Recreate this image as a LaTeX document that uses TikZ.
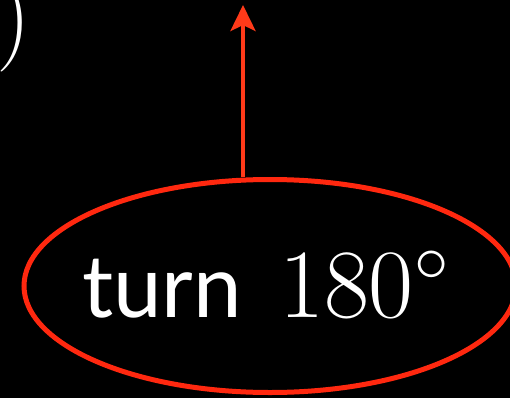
\RequirePackage{fix-cm}
\documentclass[tikz,border=0pt]{standalone}
\usepackage{fontspec}
\newfontfamily\labelsans{Lato}
\usetikzlibrary{arrows.meta,shapes.geometric}
\definecolor{hot}{RGB}{255,40,15}
\definecolor{hotarrow}{RGB}{255,58,25}
\tikzset{
  redline/.style={draw=hot, line width=5pt},
  bigtext/.style={text=white, inner sep=0pt, font=\fontsize{98}{98}\selectfont},
}
\begin{document}
\begin{tikzpicture}[x=1pt,y=-1pt]
\fill[black] (0,0) rectangle (510,398);
\useasboundingbox (0,0) rectangle (510,398);
\node[bigtext, anchor=base east] (paren) at (31,48) {$)$};
\node[ellipse, redline, minimum width=492pt, minimum height=213pt, inner sep=0pt] (e) at (270,286) {};
\coordinate (tip) at (243,5);
\draw[draw=hotarrow, line width=4.5pt, -{Stealth[length=26pt,width=25pt,inset=6pt]}] (e.north -| tip) -- (tip);
\node[bigtext, anchor=base west, font=\labelsans\fontsize{87}{87}\selectfont] (turn) at (82,317) {turn};
\node[bigtext, anchor=base west] (deg) at (279,317) {$180^\circ$};
\end{tikzpicture}
\end{document}
